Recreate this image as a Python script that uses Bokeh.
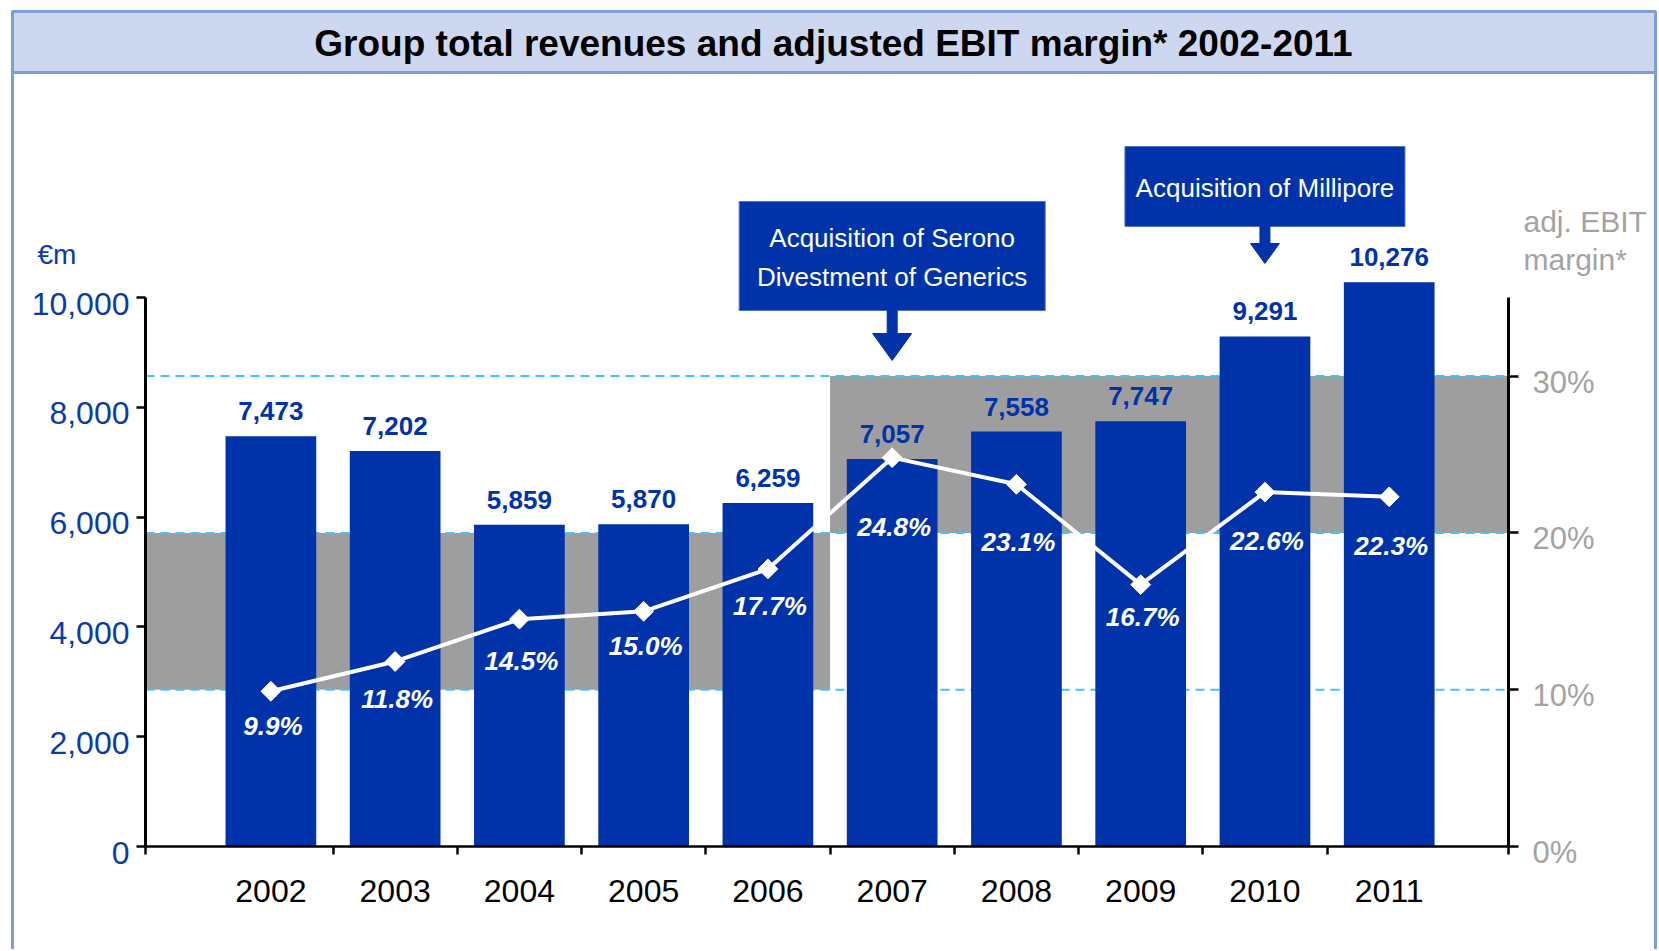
import math
from bokeh.plotting import figure
from bokeh.models import (Range1d, LinearAxis, FixedTicker, NumeralTickFormatter,
                          BoxAnnotation, Label, ColumnDataSource)
from bokeh.core.properties import value
from bokeh.embed import file_html
from bokeh.resources import INLINE

# ---------------- data ----------------
years = [2002, 2003, 2004, 2005, 2006, 2007, 2008, 2009, 2010, 2011]
revenues = [7473, 7202, 5859, 5870, 6259, 7057, 7558, 7747, 9291, 10276]
margins = [9.9, 11.8, 14.5, 15.0, 17.7, 24.8, 23.1, 16.7, 22.6, 22.3]
left_ticks = [0, 2000, 4000, 6000, 8000, 10000]
right_ticks = [0, 10, 20, 30]
right_tick_labels = ["0%", "10%", "20%", "30%"]
right_axis_top = 35
corridor_start = [2002, 2007]     # first year of each margin corridor
corridor_low = [10, 20]
corridor_high = [20, 30]
event_years = [2007, 2010]
event_lines = [["Acquisition of Serono", "Divestment of Generics"],
               ["Acquisition of Millipore"]]
title_text = "Group total revenues and adjusted EBIT margin* 2002-2011"

# ---------------- layout (pixels) ----------------
W, H = 1657, 949
AX_L, AX_R, AX_B = 145, 1508, 846      # axis positions on the canvas
X0, X1 = 2000.991, 2011.96             # data x at the left / right axes
PPY = (AX_B - 297.0) / 10000.0         # px per € m
PPCT = 15.68                           # px per margin %
PPX = (AX_R - AX_L) / (X1 - X0)
LBL_DROP = 6                           # tick labels sit a little below their ticks

def dx(px):
    return X0 + (px - AX_L) / PPX

def dy(py):
    return (AX_B - py) / PPY

BLUE = "#0033AA"
AXBLUE = "#0B3BA8"
GRAY_BAND = "#9E9E9E"
GRAY_TXT = "#A3A3A3"
DASH = "#3FC8F5"
FRAME = "#7F9ED3"
FNAME = "Liberation Sans"
FONT = value(FNAME)

p = figure(width=W, height=H, title=None,
           x_range=Range1d(dx(0), dx(W)), y_range=Range1d(dy(H), dy(0)),
           output_backend="svg", toolbar_location=None,
           x_axis_location=None, y_axis_location=None,
           min_border_left=0, min_border_right=0, min_border_top=0, min_border_bottom=0)
m_lo, m_hi = -(H - AX_B) / PPCT, AX_B / PPCT
s_y, s_m = LBL_DROP / PPY, LBL_DROP / PPCT
p.extra_y_ranges = {
    "m": Range1d(m_lo, m_hi),
    "y_lbl": Range1d(dy(H) + s_y, dy(0) + s_y),
    "m_lbl": Range1d(m_lo + s_m, m_hi + s_m),
}
p.outline_line_color = None
p.background_fill_color = "white"
p.border_fill_color = "white"
p.grid.visible = False

# frame and title band
p.add_layout(BoxAnnotation(left=dx(12), right=dx(1655), top=dy(11), bottom=dy(H + 20),
                           fill_alpha=0, line_color=FRAME, line_width=3, line_alpha=1,
                           level="underlay"))
p.add_layout(BoxAnnotation(left=dx(12), right=dx(1655), top=dy(11), bottom=dy(72),
                           fill_color="#CDD7EF", fill_alpha=1, line_color=FRAME,
                           line_width=3, line_alpha=1, level="underlay"))
p.add_layout(Label(x=dx(833), y=dy(43), text=title_text, text_align="center",
                   text_baseline="middle", text_font=FNAME, text_font_size="37px",
                   text_font_style="bold", text_color="black"))

# margin corridors
c_right = corridor_start[1:] + [None]
lefts = [X0 if i == 0 else s - 0.5 for i, s in enumerate(corridor_start)]
rights = [s - 0.5 if s is not None else X1 for s in c_right]
p.quad(left=lefts, right=rights, bottom=corridor_low, top=corridor_high,
       y_range_name="m", fill_color=GRAY_BAND, line_color=None)

# dashed reference lines
ref_levels = sorted(set(corridor_low + corridor_high))
p.segment(x0=[X0] * len(ref_levels), x1=[X1] * len(ref_levels), y0=ref_levels, y1=ref_levels,
          y_range_name="m", line_color=DASH, line_width=2, line_dash="9 6")

# bars
src = ColumnDataSource(dict(
    year=years, rev=revenues, margin=margins,
    rev_lbl=[f"{v:,}" for v in revenues],
    m_lbl=[f"{m:.1f}%" for m in margins],
    m_off=[35, 38, 42, 35, 37, 69, 58, 32, 49, 49],
))
p.vbar(x="year", top="rev", width=0.73, source=src, fill_color=BLUE, line_color=None)

# margin line
p.line(x="year", y="margin", source=src, y_range_name="m", line_color="white", line_width=4)
p.scatter(x="year", y="margin", source=src, y_range_name="m", marker="square",
          angle=math.pi / 4, size=14, fill_color="white", line_color="white")

# labels
p.text(x="year", y="rev", text="rev_lbl", source=src, y_offset=-25,
       text_align="center", text_baseline="middle", text_font=FONT,
       text_font_size="26px", text_font_style="bold", text_color=BLUE)
p.text(x="year", y="margin", text="m_lbl", source=src, y_range_name="m", y_offset="m_off",
       x_offset=2, text_align="center", text_baseline="middle", text_font=FONT,
       text_font_size="26px", text_font_style="bold italic", text_color="white")

# event callouts: (box top, box bottom, box width, head top, tip, head width) px
geom = [(201, 310, 306, 333, 360, 39), (146, 226, 280, 243, 263, 29)]
for yr, lines, g in zip(event_years, event_lines, geom):
    top, bot, bw, ht, tip, hw = g
    hx = bw / 2 / PPX
    p.quad(left=[yr - hx], right=[yr + hx], top=[dy(top)], bottom=[dy(bot)],
           fill_color=BLUE, line_color="#4F72C8", line_width=1)
    sw = 5 / PPX
    hh = hw / 2 / PPX
    p.patch(x=[yr - sw, yr + sw, yr + sw, yr + hh, yr, yr - hh, yr - sw],
            y=[dy(bot), dy(bot), dy(ht), dy(ht), dy(tip), dy(ht), dy(ht)],
            fill_color=BLUE, line_color=BLUE, line_width=1)
    n = len(lines)
    mid = (top + bot) / 2 + 1
    for i, t in enumerate(lines):
        fy = mid + (i - (n - 1) / 2) * 39
        p.text(x=[yr], y=[dy(fy)], text=[t], text_align="center", text_baseline="middle",
               text_font=FONT, text_font_size="26px", text_color="white")

# ---------------- axes (fixed positions inside the full-canvas frame) ----------------
def style_labels(ax, size, color, standoff):
    ax.major_label_standoff = standoff
    ax.major_label_text_font = FNAME
    ax.major_label_text_font_size = size
    ax.major_label_text_color = color

xaxis = LinearAxis(ticker=FixedTicker(ticks=years,
                                      minor_ticks=[X0] + [y + 0.5 for y in years[:-1]] + [X1]),
                   fixed_location=0, bounds=(X0, X1))
xaxis.axis_line_width = 2.5
xaxis.axis_line_color = "black"
xaxis.major_tick_out = 0
xaxis.major_tick_in = 0
xaxis.minor_tick_out = 8
xaxis.minor_tick_in = 0
xaxis.minor_tick_line_width = 2.5
xaxis.minor_tick_line_color = "black"
xaxis.major_label_overrides = {y: str(y) for y in years}
style_labels(xaxis, "32px", "black", 25)
p.add_layout(xaxis, "below")

# left axis: line + tick marks
yl = LinearAxis(ticker=FixedTicker(ticks=[], minor_ticks=left_ticks),
                bounds=(left_ticks[0], left_ticks[-1]), fixed_location=X0)
yl.axis_line_width = 3
yl.axis_line_color = "black"
yl.major_tick_out = 0
yl.major_tick_in = 0
yl.minor_tick_out = 9
yl.minor_tick_in = 0
yl.minor_tick_line_width = 2.5
yl.minor_tick_line_color = "black"
p.add_layout(yl, "left")
# left axis tick labels
yl_lbl = LinearAxis(y_range_name="y_lbl", ticker=FixedTicker(ticks=left_ticks),
                    formatter=NumeralTickFormatter(format="0,0"), fixed_location=X0)
yl_lbl.axis_line_color = None
yl_lbl.major_tick_line_color = None
yl_lbl.major_tick_out = 0
yl_lbl.major_tick_in = 0
yl_lbl.minor_tick_line_color = None
style_labels(yl_lbl, "32px", AXBLUE, 16)
p.add_layout(yl_lbl, "left")

# right axis: line + tick marks
yr_ax = LinearAxis(y_range_name="m", ticker=FixedTicker(ticks=[], minor_ticks=right_ticks),
                   bounds=(0, right_axis_top), fixed_location=X1)
yr_ax.axis_line_width = 3
yr_ax.axis_line_color = "black"
yr_ax.major_tick_out = 0
yr_ax.major_tick_in = 0
yr_ax.minor_tick_out = 10
yr_ax.minor_tick_in = 0
yr_ax.minor_tick_line_width = 2.5
yr_ax.minor_tick_line_color = "black"
p.add_layout(yr_ax, "right")
# right axis tick labels
yr_lbl = LinearAxis(y_range_name="m_lbl", ticker=FixedTicker(ticks=right_ticks),
                    fixed_location=X1)
yr_lbl.major_label_overrides = {t: s for t, s in zip(right_ticks, right_tick_labels)}
yr_lbl.axis_line_color = None
yr_lbl.major_tick_line_color = None
yr_lbl.major_tick_out = 0
yr_lbl.major_tick_in = 0
yr_lbl.minor_tick_line_color = None
style_labels(yr_lbl, "31px", GRAY_TXT, 24)
p.add_layout(yr_lbl, "right")

# axis unit captions
p.add_layout(Label(x=dx(37), y=dy(254), text="€m", text_align="left", text_baseline="middle",
                   text_font=FNAME, text_font_size="28px", text_color=AXBLUE))
p.add_layout(Label(x=dx(1523), y=dy(221), text="adj. EBIT", text_align="left",
                   text_baseline="middle", text_font=FNAME, text_font_size="30px",
                   text_color=GRAY_TXT))
p.add_layout(Label(x=dx(1523), y=dy(259), text="margin*", text_align="left",
                   text_baseline="middle", text_font=FNAME, text_font_size="30px",
                   text_color=GRAY_TXT))

open("out.html", "w").write(file_html(p, INLINE))
